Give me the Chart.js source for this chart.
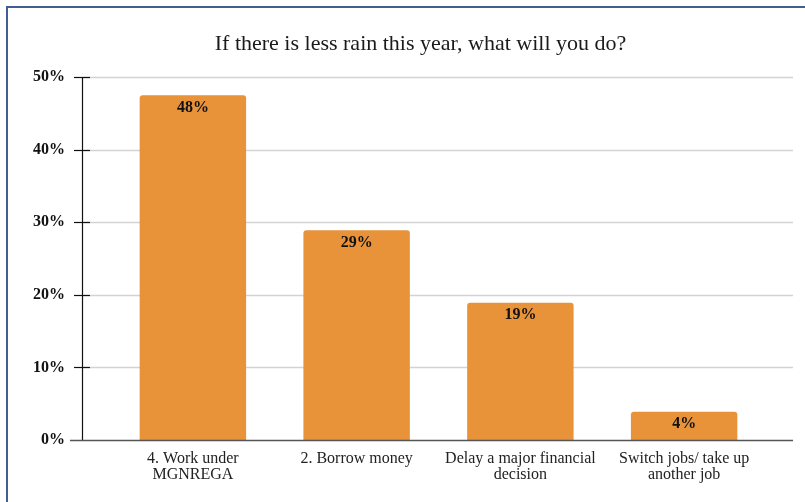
<!DOCTYPE html>
<html>
<head>
<meta charset="utf-8">
<script src="https://cdn.jsdelivr.net/npm/chart.js@4"></script>
<style>
  html, body { margin: 0; padding: 0; background: #fff; }
  #wrap { position: relative; width: 805px; height: 502px; }
  #frame {
    position: absolute; left: 6px; top: 6px; right: 0; bottom: 0;
    border-left: 2px solid #3d5f94; border-top: 2px solid #3d5f94;
  }
  canvas { position: absolute; left: 0; top: 0; }
</style>
</head>
<body>
<div id="wrap">
  <div id="frame"></div>
  <canvas id="chart" width="805" height="502"></canvas>
</div>
<script>
/* ─── Data ─────────────────────────────────────────── */
const TITLE = "If there is less rain this year, what will you do?";
const CATEGORIES = [
  ["4. Work under", "MGNREGA"],
  ["2. Borrow money"],
  ["Delay a major financial", "decision"],
  ["Switch jobs/ take up", "another job"],
];
const VALUES = [47.5, 28.9, 18.9, 3.9];
const Y_TICKS = [0, 10, 20, 30, 40, 50];

const SERIF = "'Liberation Serif', 'Times New Roman', serif";
const BAR_COLOR = "#e8923a";

/* ─── Title, axis lines, grid, tick marks, value labels ── */
const decorPlugin = {
  id: "decor",
  beforeDatasetsDraw(chart) {
    const { ctx, chartArea, scales } = chart;
    const y = scales.y;
    const axisX = chartArea.left - 29;
    const gridRight = chartArea.right + 27;
    ctx.save();

    // title
    ctx.fillStyle = "#1a1a1a";
    ctx.font = "22px " + SERIF;
    ctx.textAlign = "center";
    ctx.textBaseline = "middle";
    ctx.fillText(TITLE, (axisX + gridRight) / 2 - 17, 44);

    // horizontal grid
    ctx.strokeStyle = "#d3d3d3";
    ctx.lineWidth = 1.5;
    Y_TICKS.forEach((t) => {
      if (t === 0) return;
      const py = Math.round(y.getPixelForValue(t)) + 0.5;
      ctx.beginPath();
      ctx.moveTo(axisX, py);
      ctx.lineTo(gridRight, py);
      ctx.stroke();
    });
    // vertical axis + tick marks
    ctx.strokeStyle = "#111";
    ctx.lineWidth = 1.2;
    ctx.beginPath();
    ctx.moveTo(axisX + 0.5, y.getPixelForValue(Y_TICKS[Y_TICKS.length - 1]));
    ctx.lineTo(axisX + 0.5, chartArea.bottom);
    ctx.stroke();
    Y_TICKS.forEach((t) => {
      if (t === 0) return;
      const py = Math.round(y.getPixelForValue(t)) + 0.5;
      ctx.beginPath();
      ctx.moveTo(axisX - 8, py);
      ctx.lineTo(axisX + 8, py);
      ctx.stroke();
    });
    ctx.restore();
  },
  afterDatasetsDraw(chart) {
    const { ctx, chartArea } = chart;
    ctx.save();
    ctx.strokeStyle = "#555";
    ctx.lineWidth = 1.5;
    const py = chartArea.bottom + 0.5;
    ctx.beginPath();
    ctx.moveTo(chartArea.left - 41, py);
    ctx.lineTo(chartArea.right + 27, py);
    ctx.stroke();

    // value labels inside the bars
    ctx.fillStyle = "#111";
    ctx.font = "bold 16px " + SERIF;
    ctx.textAlign = "center";
    ctx.textBaseline = "middle";
    chart.getDatasetMeta(0).data.forEach((bar, i) => {
      ctx.fillText(Math.round(VALUES[i]) + "%", bar.x, bar.y + 12.5);
    });
    ctx.restore();
  },
};

/* ─── Chart ────────────────────────────────────────── */
new Chart(document.getElementById("chart"), {
  type: "bar",
  data: {
    labels: CATEGORIES,
    datasets: [
      {
        data: VALUES,
        backgroundColor: BAR_COLOR,
        borderRadius: { topLeft: 3, topRight: 3 },
        borderSkipped: "bottom",
        barPercentage: 0.65,
        categoryPercentage: 1,
      },
    ],
  },
  options: {
    responsive: false,
    animation: false,
    layout: { padding: { left: 0, right: 39, top: 77, bottom: 0 } },
    plugins: {
      legend: { display: false },
      tooltip: { enabled: false },
      title: { display: false },
    },
    scales: {
      x: {
        grid: { display: false },
        border: { display: false },
        ticks: {
          color: "#222",
          font: { family: SERIF, size: 16, lineHeight: 1.0 },
          padding: 3,
          maxRotation: 0,
          autoSkip: false,
        },
        afterFit(scale) { scale.height = 62; },
      },
      y: {
        min: 0,
        max: 50,
        grid: { display: false, drawTicks: false },
        border: { display: false },
        afterBuildTicks(scale) {
          scale.ticks = Y_TICKS.map((v) => ({ value: v }));
        },
        afterFit(scale) { scale.width = 111; },
        ticks: {
          color: "#111",
          padding: 46,
          font: { family: SERIF, size: 16, weight: "bold" },
          callback: (v) => v + "%",
        },
      },
    },
  },
  plugins: [decorPlugin],
});
</script>
</body>
</html>
